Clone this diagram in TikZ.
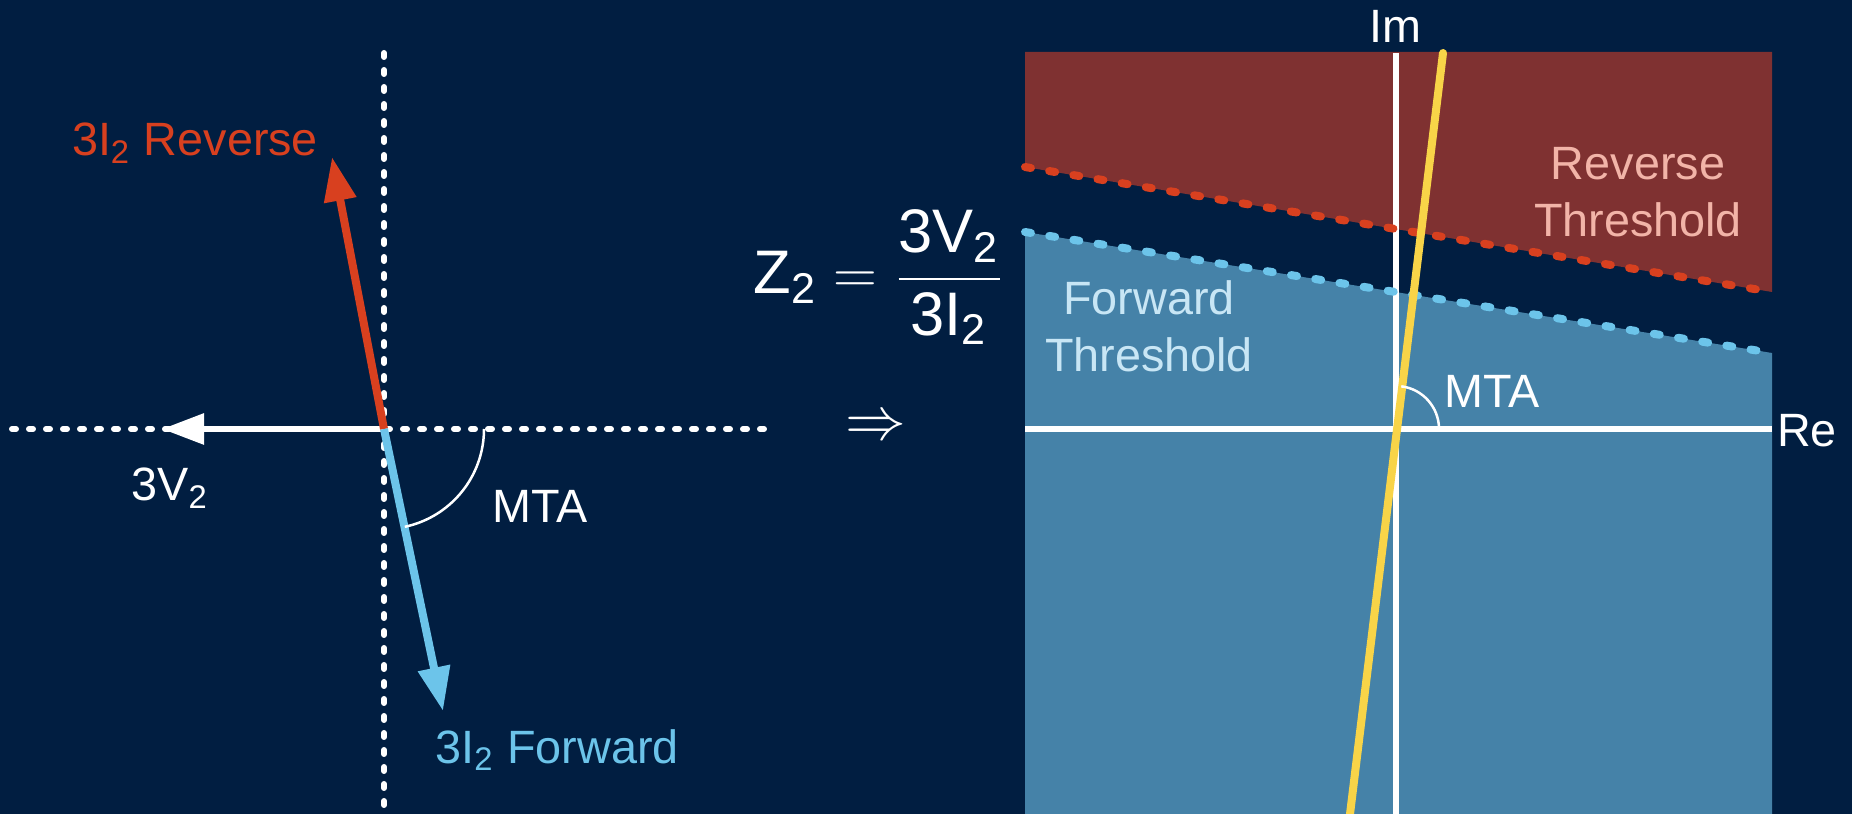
\documentclass[tikz,border=0pt]{standalone}
\usepackage{amsmath}
\usepackage{fontspec}
\setmainfont{Liberation Sans}
\usetikzlibrary{arrows.meta}

\definecolor{navy}{HTML}{011E41}
\definecolor{revred}{HTML}{D8401F}
\definecolor{fwdblue}{HTML}{6CC4EA}
\definecolor{revfill}{HTML}{7F3131}
\definecolor{fwdfill}{HTML}{4582A8}
\definecolor{revtext}{HTML}{F2B4A8}
\definecolor{fwdtext}{HTML}{C8E6F5}
\definecolor{mtayellow}{HTML}{F8D448}

\tikzset{
  lbl/.style={font=\fontsize{13.3}{16.2}\selectfont, inner sep=0pt, text=white},
  dotaxis/.style={draw=white, line width=0.6mm, line cap=round,
                  dash pattern=on 0.4mm off 1.3mm},
  thresh/.style={line width=0.8mm, line cap=round,
                 dash pattern=on 0.6mm off 1.85mm},
  phasor/.style={line width=0.8mm, -{Triangle[length=4.4mm,width=3.1mm]}},
  angarc/.style={draw=white, line width=0.25mm}
}

\begin{document}
\begin{tikzpicture}[
    x=0.1mm, y=-0.1mm,
    axis/.style={draw=white, line width=0.6mm},
    zline/.style={draw=mtayellow, line width=0.8mm, line cap=round}
]
  \fill[navy] (0,0) rectangle (1852,814);
  \useasboundingbox (0,0) rectangle (1852,814);

  % Left: phasor diagram
  \coordinate (o)      at (384,429);
  \coordinate (hl)     at (12,429);
  \coordinate (hr)     at (768,429);
  \coordinate (vt)     at (384,53);
  \coordinate (vb)     at (384,809);
  \coordinate (v2tip)  at (162,429);
  \coordinate (revtip) at (332,157);
  \coordinate (fwdtip) at (443,711);

  \draw[dotaxis] (hl) -- (hr);
  \draw[dotaxis] (vt) -- (vb);
  \draw[white, line width=0.6mm, -{Triangle[length=4.2mm,width=3mm]}] (o) -- (v2tip);
  \draw[phasor, revred] (o) -- (revtip);
  \draw[phasor, fwdblue] (o) -- (fwdtip);
  \draw[angarc] (o) ++(100,0) arc[start angle=0, end angle=-78, radius=10mm];

  \node[lbl, text=revred, anchor=base] (revlbl) at (195,156) {3I\textsubscript{2} Reverse};
  \node[lbl, text=fwdblue, anchor=base] (fwdlbl) at (557,763) {3I\textsubscript{2} Forward};
  \node[lbl, anchor=base] (v2lbl) at (170,501) {3V\textsubscript{2}};
  \node[lbl, anchor=base] (mtal) at (540,523) {MTA};

  % Middle: impedance
  \node[anchor=base west, inner sep=0pt, text=white,
        font=\fontsize{17.5}{20}\selectfont] (z2)
    at (753,294) {$\text{Z}_{\text{2}} = \dfrac{\text{3V}_{\text{2}}}{\text{3I}_{\text{2}}}$};
  \node[inner sep=0pt, text=white, font=\fontsize{16}{18}\selectfont] (impl)
    at (876,428) {$\Rightarrow$};

  % Right: impedance plane
  \coordinate (o2)  at (1396,429);
  \coordinate (pTL) at (1025,52);
  \coordinate (pTR) at (1772,52);
  \coordinate (pBL) at (1025,814);
  \coordinate (pBR) at (1772,814);
  \coordinate (rL)  at (1025,167);
  \coordinate (rR)  at (1772,292);
  \coordinate (fL)  at (1025,232);
  \coordinate (fR)  at (1772,353);
  \coordinate (reL) at (1025,429);
  \coordinate (reR) at (1772,429);
  \coordinate (imT) at (1396,53);
  \coordinate (imB) at (1396,814);
  \coordinate (zT)  at (1443,53);
  \coordinate (zB)  at (1350,814);

  \fill[revfill] (pTL) -- (pTR) -- (rR) -- (rL) -- cycle;
  \fill[fwdfill] (fL) -- (fR) -- (pBR) -- (pBL) -- cycle;
  \draw[axis] (reL) -- (reR);
  \draw[axis] (imT) -- (imB);
  \draw[thresh, revred] (rL) -- (rR);
  \draw[thresh, fwdblue] (fL) -- (fR);
  \draw[zline] (zT) -- (zB);
  \draw[angarc] (o2) ++(43,0) arc[start angle=0, end angle=83, radius=4.3mm];

  \node[lbl, anchor=base] (imlbl) at (1395,43) {Im};
  \node[lbl, anchor=base] (relbl) at (1807,447) {Re};
  \node[lbl, anchor=base] (mtar) at (1492,408) {MTA};
  \node[lbl, text=revtext, align=center] (revth) at (1638,192) {Reverse\\Threshold};
  \node[lbl, text=fwdtext, align=center] (fwdth) at (1149,326) {Forward\\Threshold};
\end{tikzpicture}
\end{document}
